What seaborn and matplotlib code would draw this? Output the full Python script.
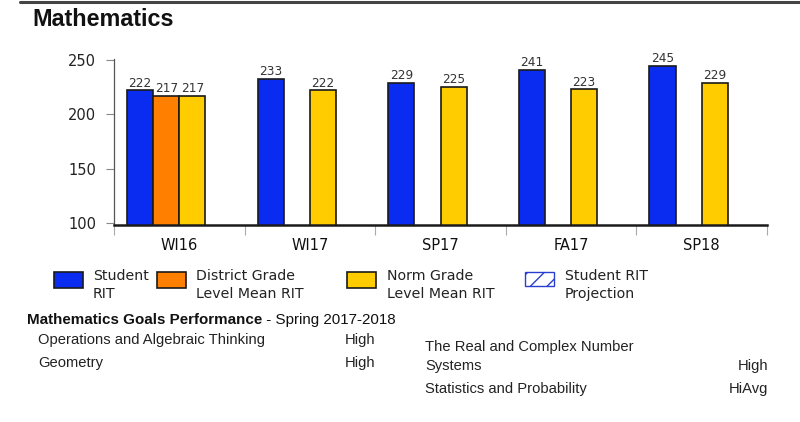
import matplotlib
matplotlib.use("Agg")
import matplotlib.pyplot as plt
from matplotlib.patches import Rectangle
from matplotlib.lines import Line2D
import numpy as np
import pandas as pd
import seaborn as sns

# ---- data ----
terms = ["WI16", "WI17", "SP17", "FA17", "SP18"]
series_names = ["Student RIT", "District Grade Level Mean RIT",
                "Norm Grade Level Mean RIT", "Student RIT Projection"]
student_rit = [222, 233, 229, 241, 245]
district_mean = [217, np.nan, np.nan, np.nan, np.nan]
norm_mean = [217, 222, 225, 223, 229]
projection = [np.nan, np.nan, np.nan, np.nan, np.nan]
y_ticks = [100, 150, 200, 250]

colors = {"Student RIT": "#0a2cf0",
          "District Grade Level Mean RIT": "#ff7f00",
          "Norm Grade Level Mean RIT": "#ffcc00",
          "Student RIT Projection": "#ffffff"}

rows = []
for s, vals in zip(series_names, [student_rit, district_mean, norm_mean, projection]):
    for t, v in zip(terms, vals):
        rows.append({"term": t, "series": s, "value": v})
df = pd.DataFrame(rows).dropna()

sns.set_theme(style="white")
plt.rcParams["font.family"] = ["DejaVu Sans"]

W, H = 800, 422
fig = plt.figure(figsize=(W / 100, H / 100), dpi=100)

def fx(x):
    return x / W

def fy(y):
    return 1 - y / H

ax = fig.add_axes([fx(114), fy(225), (767 - 114) / W, (225 - 59) / H])
sns.barplot(data=df, x="term", y="value", hue="series", order=terms,
            hue_order=series_names, palette=colors, saturation=1,
            edgecolor="#1a1a1a", linewidth=1.2, width=0.8, ax=ax,
            legend=False, errorbar=None)

for c in ax.containers:
    ax.bar_label(c, fmt="%d", padding=0.5, fontsize=8.7, color="#333333")

ax.set_ylim(97.9, 251)
ax.set_xlim(-0.5, len(terms) - 0.5)
ax.set_yticks(y_ticks)
ax.set_xlabel("")
ax.set_ylabel("")
ax.set_xticks(range(len(terms)))
ax.set_xticklabels(terms)
ax.set_xticks(np.arange(-0.5, len(terms), 1.0), minor=True)
ax.tick_params(axis="x", which="major", length=0, pad=9, labelsize=10.5, labelcolor="#111111")
ax.tick_params(axis="x", which="minor", length=7, width=0.8, color="#aaaaaa", bottom=True)
ax.tick_params(axis="y", which="major", left=True, length=6, width=0.8, color="#888888",
               pad=7, labelsize=10.5, labelcolor="#222222")
for s in ["top", "right"]:
    ax.spines[s].set_visible(False)
ax.spines["left"].set_color("#555555")
ax.spines["left"].set_linewidth(0.9)
ax.spines["bottom"].set_color("#1a1a1a")
ax.spines["bottom"].set_linewidth(1.8)

# top rule and title
fig.add_artist(Line2D([fx(20), fx(800)], [fy(2), fy(2)], color="#444444", lw=2.2,
                      transform=fig.transFigure))
fig.text(fx(32), fy(19), "Mathematics", fontsize=16.8, fontweight="bold",
         family="Liberation Sans", color="#111111", va="center", ha="left")

# legend
leg = [("Student RIT", 54, ["Student", "RIT"], 93),
       ("District Grade Level Mean RIT", 157, ["District Grade", "Level Mean RIT"], 196),
       ("Norm Grade Level Mean RIT", 347, ["Norm Grade", "Level Mean RIT"], 387),
       ("Student RIT Projection", 525, ["Student RIT", "Projection"], 565)]
for name, px, lines, tx in leg:
    if name == "Student RIT Projection":
        r = Rectangle((fx(px), fy(286)), 29 / W, 14 / H, transform=fig.transFigure,
                      facecolor="white", edgecolor="#2a3fd0", hatch="//", lw=1.0)
    else:
        r = Rectangle((fx(px), fy(288)), 29 / W, 16 / H, transform=fig.transFigure,
                      facecolor=colors[name], edgecolor="#1a1a1a", lw=1.2)
    fig.add_artist(r)
    fig.text(fx(tx), fy(276), lines[0], fontsize=10.2, color="#222222", va="center")
    fig.text(fx(tx), fy(294), lines[1], fontsize=10.2, color="#222222", va="center")

# goals performance
gf = "Liberation Sans"
hdr = fig.text(fx(27), fy(320), "Mathematics Goals Performance", fontsize=10.9,
               fontweight="bold", family=gf, color="#111111", va="center")
ax.annotate(" - Spring 2017-2018", xy=(1, 0.5), xycoords=hdr, va="center", ha="left",
            fontsize=10.9, family=gf, color="#111111", annotation_clip=False)
goal_fs = 10.6
fig.text(fx(38), fy(340), "Operations and Algebraic Thinking", fontsize=goal_fs, family=gf,
         color="#222222", va="center")
fig.text(fx(345), fy(340), "High", fontsize=goal_fs, family=gf, color="#222222", va="center")
fig.text(fx(38), fy(363), "Geometry", fontsize=goal_fs, family=gf, color="#222222", va="center")
fig.text(fx(345), fy(363), "High", fontsize=goal_fs, family=gf, color="#222222", va="center")
fig.text(fx(425), fy(347), "The Real and Complex Number", fontsize=goal_fs, family=gf,
         color="#222222", va="center")
fig.text(fx(425), fy(366), "Systems", fontsize=goal_fs, family=gf, color="#222222", va="center")
fig.text(fx(768), fy(366), "High", fontsize=goal_fs, family=gf, color="#222222", va="center",
         ha="right")
fig.text(fx(425), fy(389), "Statistics and Probability", fontsize=goal_fs, family=gf,
         color="#222222", va="center")
fig.text(fx(768), fy(389), "HiAvg", fontsize=goal_fs, family=gf, color="#222222", va="center",
         ha="right")

fig.savefig("out.png", dpi=100, facecolor="white")
